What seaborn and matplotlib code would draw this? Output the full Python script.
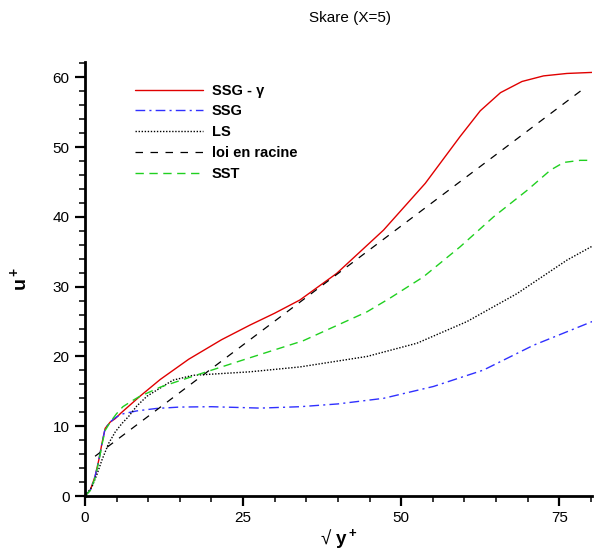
import matplotlib
matplotlib.use("Agg")
import matplotlib.pyplot as plt
from matplotlib.ticker import MultipleLocator
import seaborn as sns

# values (x = sqrt(y+), y = u+)
ssg_gamma_x = [0, 0.85, 1.6, 2.2, 2.7, 3.2, 4.0, 4.8, 5.7, 7.2, 8.7, 11.9, 16.4, 21.6, 26.1, 30, 34, 39.8, 47.2, 53.8, 59.3, 62.5, 65.7, 69.1, 72.5, 76.2, 80.2]
ssg_gamma_y = [0, 0.86, 2.8, 5.2, 7.6, 9.7, 10.6, 11.1, 11.9, 13.1, 14.3, 16.7, 19.6, 22.4, 24.5, 26.2, 28.1, 31.9, 38.1, 44.8, 51.5, 55.2, 57.8, 59.4, 60.2, 60.55, 60.7]

ssg_x = [0, 0.85, 1.6, 2.2, 2.7, 3.2, 4.0, 4.6, 5.3, 6.1, 8.2, 11.3, 15, 20, 27.7, 34, 40, 47.2, 55.1, 63, 70.9, 80.2]
ssg_y = [0, 0.86, 2.8, 5.2, 7.6, 9.7, 10.6, 11.1, 11.5, 11.8, 12.2, 12.55, 12.75, 12.8, 12.6, 12.8, 13.2, 14.0, 15.7, 18.05, 21.6, 25.0]

ls_x = [0, 1.1, 1.9, 2.7, 3.75, 4.8, 5.85, 6.9, 8.2, 9.8, 13.9, 17.1, 26.1, 34, 44.6, 52.5, 60.4, 68.3, 76.2, 80.2]
ls_y = [0, 1.3, 3.1, 5.2, 7.55, 9.2, 10.4, 11.4, 12.9, 14.3, 16.6, 17.3, 17.8, 18.5, 20.0, 21.9, 25.0, 29.0, 33.8, 35.8]

root_x = [1.6, 78.6]
root_y = [5.7, 58.2]

sst_x = [0, 0.85, 1.6, 2.2, 2.7, 3.2, 4.0, 5.0, 6.0, 7.2, 8.5, 11.9, 18.2, 25, 34.5, 44.6, 48.3, 53.5, 59.3, 64.6, 69.9, 73.6, 75.7, 78.3, 80.2]
sst_y = [0, 0.8, 2.6, 5.0, 7.4, 9.4, 10.6, 11.8, 12.8, 13.5, 14.2, 15.6, 17.5, 19.5, 22.25, 26.4, 28.4, 31.4, 35.7, 40.0, 43.8, 46.7, 47.8, 48.1, 48.1]

sns.set_style("ticks")
plt.rcParams['font.family'] = ['Liberation Sans', 'DejaVu Sans']
plt.rcParams['mathtext.fontset'] = 'custom'
plt.rcParams['mathtext.rm'] = 'Liberation Sans'
plt.rcParams['mathtext.bf'] = 'Liberation Sans:bold'
plt.rcParams['text.color'] = 'black'
plt.rcParams['axes.labelcolor'] = 'black'
plt.rcParams['xtick.color'] = 'black'
plt.rcParams['ytick.color'] = 'black'
plt.rcParams['axes.edgecolor'] = 'black'

fig = plt.figure(figsize=(5.94, 5.53), dpi=100)
ax = fig.add_axes([0.143, 0.103, 0.854, 0.785])

sns.lineplot(x=ssg_gamma_x, y=ssg_gamma_y, ax=ax, color='#e00000', lw=1, sort=False, label='SSG - γ')
l2 = sns.lineplot(x=ssg_x, y=ssg_y, ax=ax, color='#3030ff', lw=1, sort=False, label='SSG').lines[-1]
l2.set_dashes([7, 3, 1.5, 3])
l3 = sns.lineplot(x=ls_x, y=ls_y, ax=ax, color='black', lw=1, sort=False, label='LS').lines[-1]
l3.set_dashes([1, 1.2])
l4 = sns.lineplot(x=root_x, y=root_y, ax=ax, color='black', lw=0.9, sort=False, label='loi en racine').lines[-1]
l4.set_dashes([6, 6])
l5 = sns.lineplot(x=sst_x, y=sst_y, ax=ax, color='#20d020', lw=1, sort=False, label='SST').lines[-1]
l5.set_dashes([6, 4])

ax.set_xlim(0, 80.2)
ax.set_ylim(0, 62.2)
ax.xaxis.set_major_locator(MultipleLocator(25))
ax.xaxis.set_minor_locator(MultipleLocator(5))
ax.yaxis.set_major_locator(MultipleLocator(10))
ax.yaxis.set_minor_locator(MultipleLocator(2))
ax.tick_params(which='major', direction='out', length=7, width=1.6, labelsize=11, pad=4)
ax.tick_params(which='minor', direction='out', length=4, width=1.1)
sns.despine(ax=ax)
for s in ['left', 'bottom']:
    ax.spines[s].set_linewidth(2)

ax.set_xlabel('√ ' + r'$\mathbf{y^+}$', fontsize=13.5, labelpad=1)
ax.set_ylabel(r'$\mathbf{u^+}$', fontsize=14, labelpad=16)
fig.text(0.59, 0.967, 'Skare (X=5)', ha='center', va='center', fontsize=11)

leg = ax.legend(loc='upper left', bbox_to_anchor=(0.098, 0.95), frameon=False,
                handlelength=4.7, handletextpad=0.6, labelspacing=0.47,
                borderpad=0, borderaxespad=0, prop={'weight': 'bold', 'size': 10.5})

fig.savefig('out.png', dpi=100)
